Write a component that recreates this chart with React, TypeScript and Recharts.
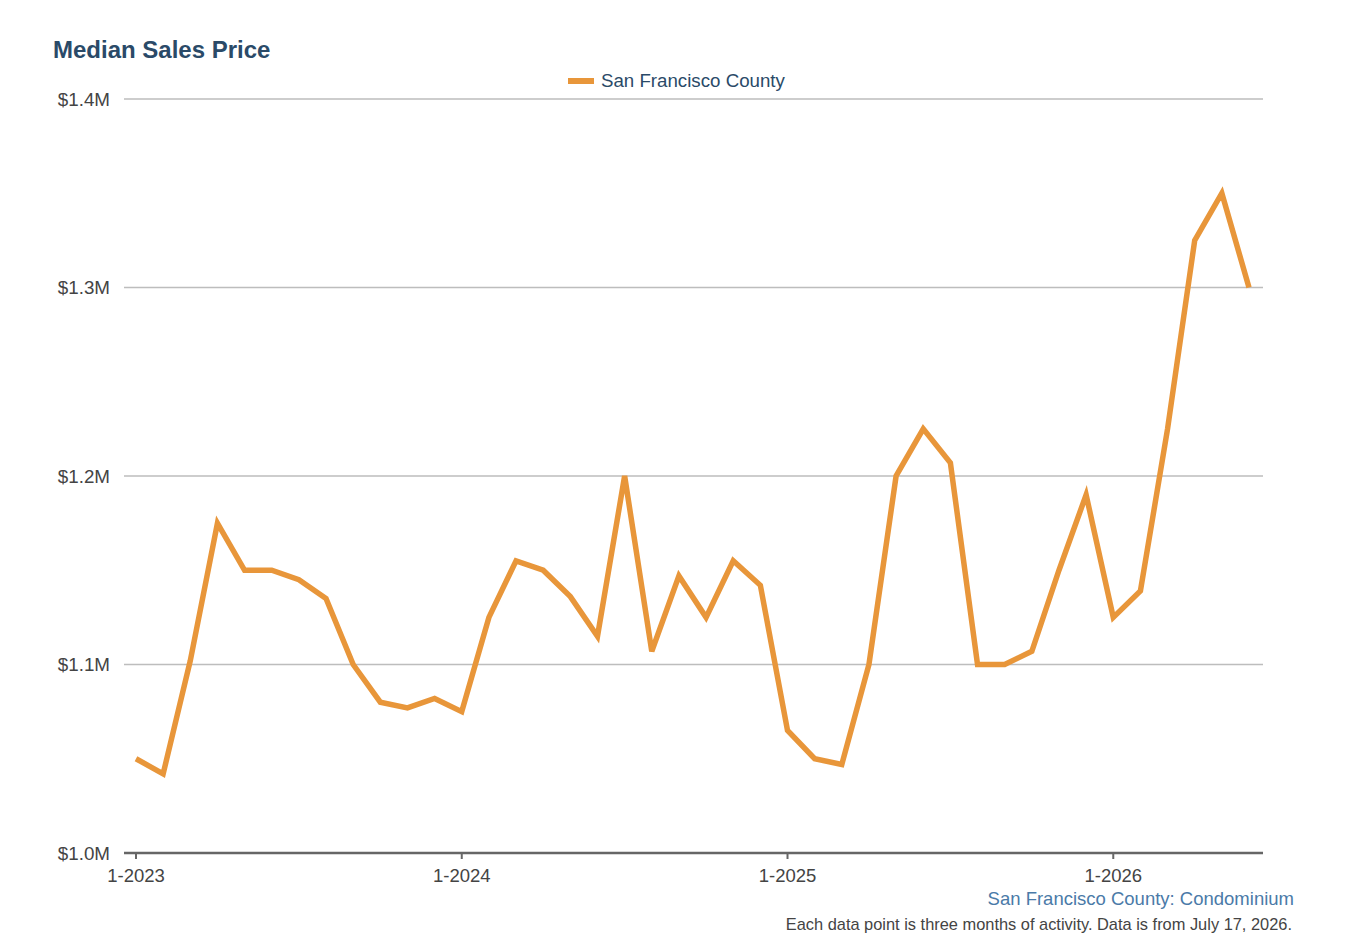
import React from 'react';
import { LineChart, Line, XAxis, YAxis, CartesianGrid } from 'recharts';

// monthly medians, Jan 2023 .. Jun 2026 (in $M)
const prices = [
  1.050, 1.042, 1.102, 1.175, 1.150, 1.150, 1.145, 1.135, 1.100, 1.080, 1.077, 1.082,
  1.075, 1.125, 1.155, 1.150, 1.136, 1.115, 1.200, 1.107, 1.147, 1.125, 1.155, 1.142,
  1.065, 1.050, 1.047, 1.100, 1.200, 1.225, 1.207, 1.100, 1.100, 1.107, 1.150, 1.190,
  1.125, 1.139, 1.225, 1.325, 1.350, 1.300,
];
const yearTicks = [0, 12, 24, 36];
const yearLabels = ['1-2023', '1-2024', '1-2025', '1-2026'];
const priceTicks = [1.0, 1.1, 1.2, 1.3, 1.4];

const data = prices.map((v, i) => ({ idx: i, price: v }));
const font = '"Liberation Sans", Arial, sans-serif';

export default function App() {
  return (
    <div style={{ position: 'absolute', left: 0, top: 0, width: 1350, height: 944, background: '#fff', fontFamily: font }}>
      <div style={{ position: 'absolute', left: 53, top: 36, fontSize: 24, fontWeight: 'bold', color: '#2a4a68' }}>
        Median Sales Price
      </div>
      <div style={{ position: 'absolute', left: 568, top: 70, display: 'flex', alignItems: 'center', fontSize: 18.7, color: '#2a4a68' }}>
        <span style={{ display: 'inline-block', width: 26, height: 6, background: '#e8963a', marginRight: 7 }} />
        San Francisco County
      </div>
      <LineChart width={1350} height={944} data={data} margin={{ top: 99, bottom: 0, left: 54, right: 87 }}>
        <CartesianGrid vertical={false} stroke="#bdbdbd" strokeWidth={1.5} />
        <XAxis
          dataKey="idx"
          type="number"
          domain={[0, 41]}
          ticks={yearTicks}
          tickFormatter={(v) => yearLabels[yearTicks.indexOf(v)]}
          padding={{ left: 12, right: 14 }}
          height={91}
          stroke="#666"
          axisLine={{ stroke: '#666', strokeWidth: 2.5 }}
          tickLine={{ stroke: '#666', strokeWidth: 2 }}
          tickSize={6}
          tickMargin={10}
          tick={{ fill: '#444', fontSize: 18.5, fontFamily: font }}
        />
        <YAxis
          type="number"
          domain={[1.0, 1.4]}
          ticks={priceTicks}
          tickFormatter={(v) => `$${v.toFixed(1)}M`}
          width={70}
          axisLine={false}
          tickLine={false}
          tickSize={0}
          tickMargin={14}
          tick={{ fill: '#444', fontSize: 18.8, fontFamily: font }}
        />
        <Line
          type="linear"
          dataKey="price"
          stroke="#e8963a"
          strokeWidth={5.5}
          dot={false}
          isAnimationActive={false}
        />
      </LineChart>
      <div style={{ position: 'absolute', right: 56, top: 888, fontSize: 18.5, color: '#4a7aa8' }}>
        San Francisco County: Condominium
      </div>
      <div style={{ position: 'absolute', right: 58, top: 915, fontSize: 16.4, color: '#444' }}>
        Each data point is three months of activity. Data is from July 17, 2026.
      </div>
    </div>
  );
}
